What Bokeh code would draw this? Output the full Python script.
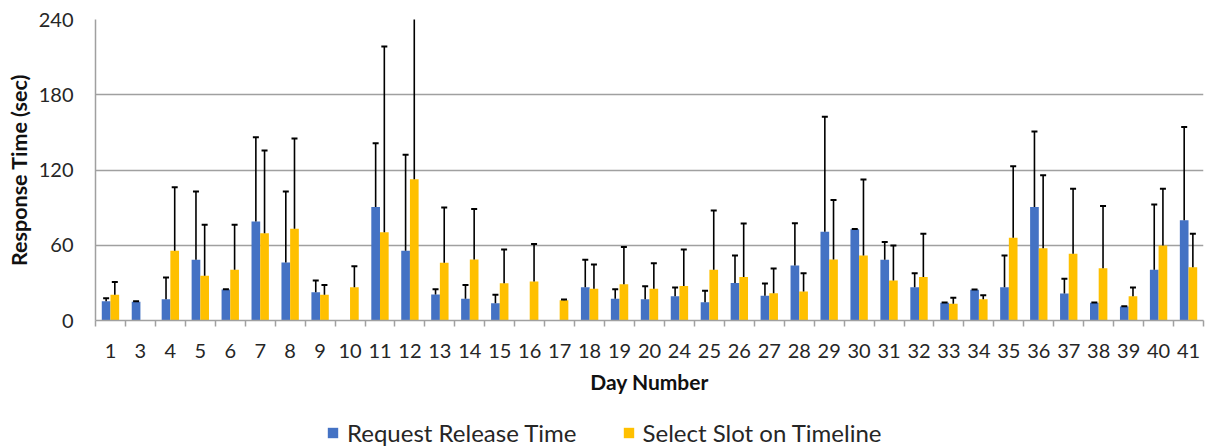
import numpy as np
from bokeh.plotting import figure
from bokeh.layouts import column
from bokeh.models import ColumnDataSource, Range1d, FixedTicker, Legend, LegendItem
from bokeh.transform import dodge
from bokeh.embed import file_html
from bokeh.resources import INLINE

days = ["1", "3", "4", "5", "6", "7", "8", "9", "10", "11", "12", "13", "14", "15",
        "16", "17", "18", "19", "20", "24", "25", "26", "27", "28", "29", "30", "31",
        "32", "33", "34", "35", "36", "37", "38", "39", "40", "41"]

release_mean = [15.4, 14.9, 17.0, 48.4, 24.7, 79.0, 46.3, 22.6, np.nan, 90.4, 55.6, 20.7,
                17.3, 13.8, np.nan, np.nan, 26.6, 17.3, 17.0, 19.4, 14.6, 30.0, 19.7, 43.9,
                70.7, 72.8, 48.4, 26.6, 14.1, 24.5, 26.6, 90.4, 21.5, 14.1, 11.2, 40.4, 80.0]
release_sd = [2.4, 0.5, 17.3, 54.5, 0.3, 67.2, 56.6, 9.3, np.nan, 51.0, 76.5, 4.3,
              11.1, 6.7, np.nan, np.nan, 21.8, 7.7, 10.4, 6.9, 9.1, 21.8, 9.8, 33.7,
              91.7, 0.2, 14.1, 11.1, 0.2, 0.2, 25.2, 60.3, 11.7, 0.2, 0.2, 52.1, 74.2]

slot_mean = [20.5, np.nan, 55.6, 35.6, 40.4, 69.6, 73.1, 20.5, 26.6, 70.4, 112.7, 46.0,
             48.6, 29.8, 31.1, 16.2, 25.3, 29.0, 25.3, 27.6, 40.4, 34.6, 21.8, 23.1,
             48.6, 51.8, 31.9, 34.6, 13.3, 17.0, 65.9, 57.7, 53.2, 41.7, 19.4, 59.8, 42.5]
slot_sd = [10.1, np.nan, 50.7, 40.7, 35.9, 66.0, 72.0, 7.9, 16.7, 148.1, 140.0, 44.1,
           40.4, 26.8, 29.8, 0.5, 19.4, 29.7, 20.4, 29.0, 47.3, 42.8, 19.7, 14.6,
           47.4, 60.6, 27.9, 34.5, 4.8, 3.2, 57.1, 58.2, 51.8, 49.5, 6.9, 45.2, 26.6]

series_names = ["Request Release Time", "Select Slot on Timeline"]
y_ticks = [0, 60, 120, 180, 240]

BLUE = "#4472C4"
YELLOW = "#FFC000"
FONT = "Lato"

n = len(days)
idx = np.arange(n)


def make_source(mean, sd):
    mean = np.array(mean, dtype=float)
    sd = np.array(sd, dtype=float)
    ok = ~np.isnan(mean)
    return ColumnDataSource(dict(x=idx[ok], top=mean[ok], err=(mean + sd)[ok]))


src_r = make_source(release_mean, release_sd)
src_s = make_source(slot_mean, slot_sd)

p = figure(width=1205, height=401, output_backend="svg", toolbar_location=None,
           x_range=Range1d(-0.5, n - 0.5), y_range=Range1d(0, 240),
           min_border_left=95, min_border_right=2, min_border_top=19, min_border_bottom=81)
p.outline_line_color = None
p.background_fill_color = "white"
p.border_fill_color = "white"

w = 0.29
off = 0.145
p.vbar(x=dodge("x", -off, range=p.x_range), top="top", width=w, bottom=0,
       source=src_r, fill_color=BLUE, line_color=None)
p.vbar(x=dodge("x", off, range=p.x_range), top="top", width=w, bottom=0,
       source=src_s, fill_color=YELLOW, line_color=None)

for src, o in ((src_r, -off), (src_s, off)):
    p.segment(x0=dodge("x", o, range=p.x_range), y0="top",
              x1=dodge("x", o, range=p.x_range), y1="err",
              source=src, line_color="black", line_width=1.6)
    p.scatter(x=dodge("x", o, range=p.x_range), y="err", marker="dash", size=6,
              line_width=2, line_color="black", source=src)

# x axis
xa = p.xaxis[0]
xa.ticker = FixedTicker(ticks=list(idx), minor_ticks=[i - 0.5 for i in range(n + 1)])
xa.major_label_overrides = {int(i): d for i, d in zip(idx, days)}
xa.major_tick_line_color = None
xa.major_tick_out = 0
xa.major_tick_in = 0
xa.minor_tick_out = 6
xa.minor_tick_in = 0
xa.minor_tick_line_color = "#a0a0a0"
xa.minor_tick_line_width = 1.5
xa.axis_line_color = "#a0a0a0"
xa.axis_line_width = 1.5
xa.major_label_standoff = 17
xa.major_label_text_font = FONT
xa.major_label_text_font_size = "20px"
xa.major_label_text_color = "#262626"
xa.axis_label = "Day Number"
xa.axis_label_text_font = FONT
xa.axis_label_text_font_style = "bold"
xa.axis_label_text_font_size = "21px"
xa.axis_label_text_color = "#111111"
xa.axis_label_standoff = 8

# y axis
ya = p.yaxis[0]
ya.ticker = FixedTicker(ticks=y_ticks)
ya.major_tick_line_color = None
ya.major_tick_out = 0
ya.major_tick_in = 0
ya.minor_tick_line_color = None
ya.axis_line_color = "#a0a0a0"
ya.axis_line_width = 1.5
ya.major_label_standoff = 22
ya.major_label_text_font = FONT
ya.major_label_text_font_size = "20px"
ya.major_label_text_color = "#262626"
ya.axis_label = "Response Time (sec)"
ya.axis_label_text_font = FONT
ya.axis_label_text_font_style = "bold"
ya.axis_label_text_font_size = "21.5px"
ya.axis_label_text_color = "#111111"
ya.axis_label_standoff = 4

p.xgrid.grid_line_color = None
p.ygrid.ticker = FixedTicker(ticks=y_ticks)
p.ygrid.grid_line_color = "#a0a0a0"
p.ygrid.grid_line_width = 1.5

# legend strip below the chart (hidden proxies of the real bars supply the swatches)
lf = figure(width=1205, height=46, output_backend="svg", toolbar_location=None,
            x_range=Range1d(-0.5, n - 0.5), y_range=Range1d(0, 240),
            x_axis_location=None, y_axis_location=None, min_border=0)
lf.outline_line_color = None
lf.grid.grid_line_color = None
lr = lf.vbar(x="x", top="top", width=w, source=src_r,
             fill_color=BLUE, line_color=None, visible=False)
ls = lf.vbar(x="x", top="top", width=w, source=src_s,
             fill_color=YELLOW, line_color=None, visible=False)
legend = Legend(items=[LegendItem(label=series_names[0], renderers=[lr]),
                       LegendItem(label=series_names[1], renderers=[ls])],
                orientation="horizontal", location=(231, 0),
                border_line_color=None, background_fill_alpha=0,
                padding=0, margin=0, spacing=45, label_standoff=8,
                glyph_width=13, glyph_height=13,
                label_text_font=FONT, label_text_font_size="24px",
                label_text_color="#262626")
lf.add_layout(legend, "center")

layout = column(p, lf, spacing=0)
open("out.html", "w").write(file_html(layout, INLINE))
